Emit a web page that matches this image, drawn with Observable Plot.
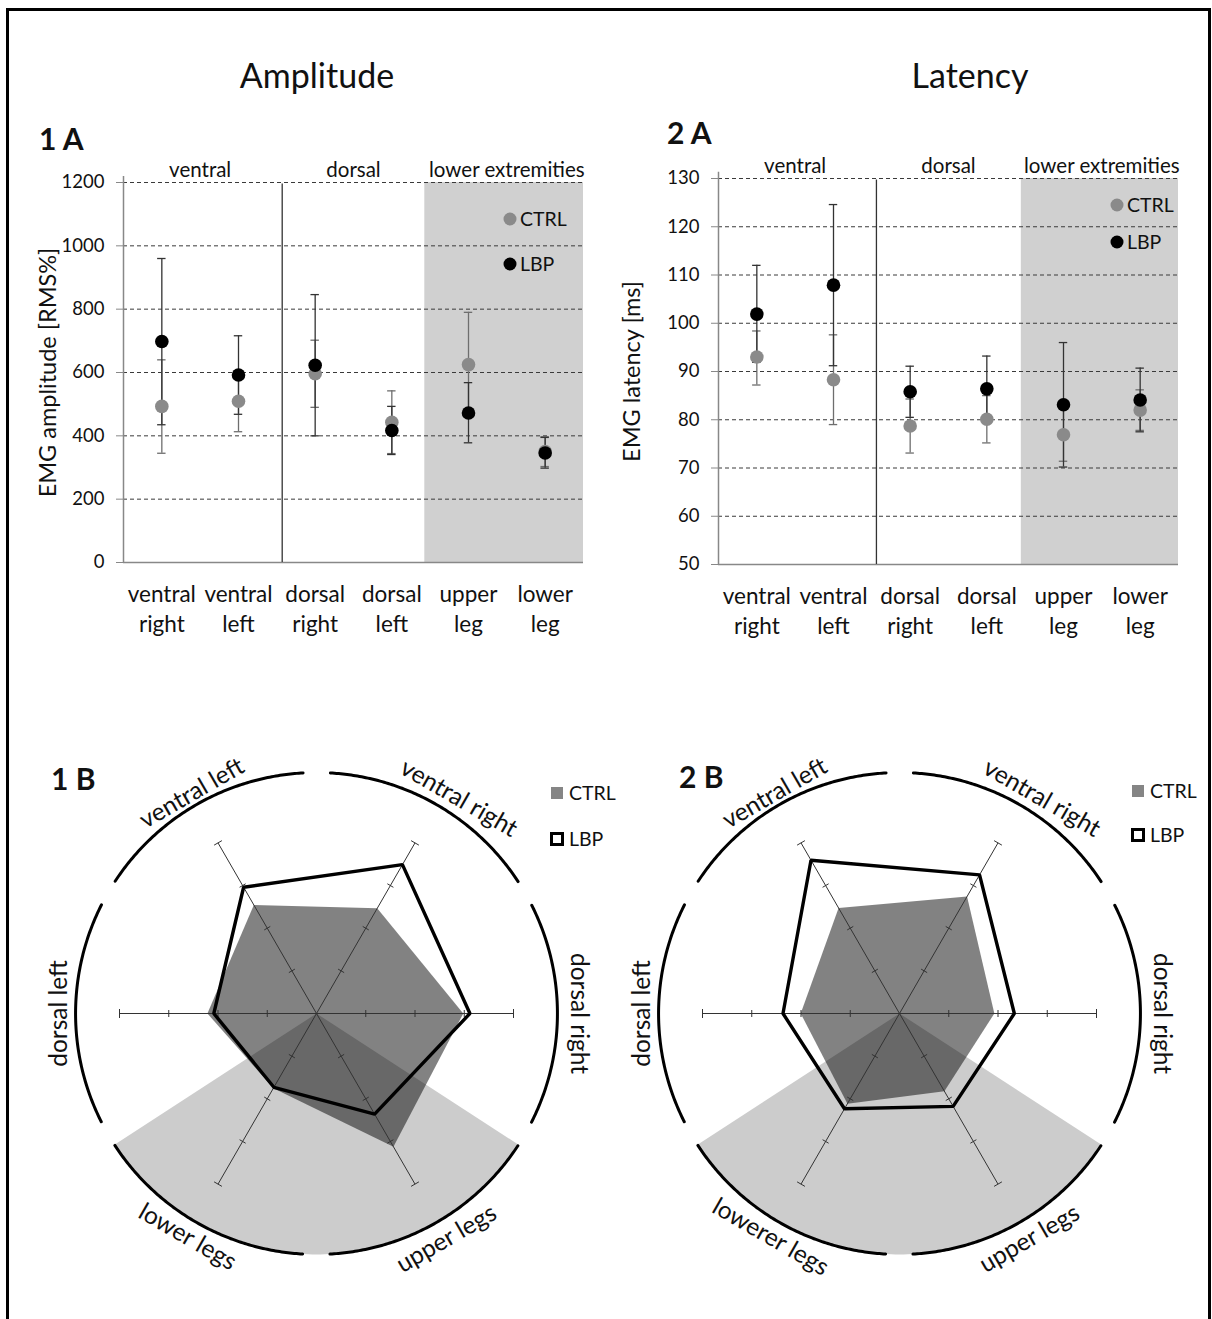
<!DOCTYPE html>
<html>
<head>
<meta charset="utf-8">
<script src="https://cdn.jsdelivr.net/npm/d3@7"></script>
<script src="https://cdn.jsdelivr.net/npm/@observablehq/plot@0.6"></script>
<style>
  body { margin: 0; background: #fff; font-family: Lato, "Open Sans", sans-serif; color: #111; }
  #page { position: relative; width: 1212px; height: 1319px; overflow: hidden; background: #fff; }
  #frame { position: absolute; left: 6px; top: 8px; width: 1199px; height: 1340px; border: 3px solid #000; }
  .abs { position: absolute; white-space: nowrap; line-height: 1; }
  .c { transform: translate(-50%, -50%); }
  .m { transform: translateY(-50%); }
  .title { font-size: 34px; }
  .panel { font-size: 30px; font-weight: 700; }
  .leg { font-size: 19.5px; }
  .plot { position: absolute; }
</style>
</head>
<body>
<div id="page">
  <div id="frame"></div>
  <div class="abs c title" style="left:317px;top:75px">Amplitude</div>
  <div class="abs c title" style="left:970px;top:75px">Latency</div>
  <div class="abs m panel" style="left:39px;top:138px">1 A</div>
  <div class="abs m panel" style="left:667px;top:132px">2 A</div>
  <div class="abs m panel" style="left:51px;top:778px">1 B</div>
  <div class="abs m panel" style="left:679px;top:776px">2 B</div>
  <div id="p1a" class="plot" style="left:0px;top:150px"></div>
  <div id="p2a" class="plot" style="left:600px;top:148px"></div>
  <div id="p1b" class="plot" style="left:26px;top:733px"></div>
  <div id="p2b" class="plot" style="left:609px;top:733px"></div>
  <div id="legends"></div>
</div>
<script>
// Muscle regions, in the order of the dot panels
const regions = ["ventral right", "ventral left", "dorsal right", "dorsal left", "upper leg", "lower leg"];
const regionTicks = ["ventral\nright", "ventral\nleft", "dorsal\nright", "dorsal\nleft", "upper\nleg", "lower\nleg"];
const groupNames = ["ventral", "dorsal", "lower extremities"];
const groupSpans = [[0, 2], [2, 4], [4, 6]];

// EMG amplitude [RMS%]: means and error-bar ends
const ampCtrl   = [493, 509, 596, 443, 625, 350];
const ampCtrlLo = [345, 413, 490, 344, 460, 303];
const ampCtrlHi = [640, 605, 702, 542, 790, 397];
const ampLbp    = [698, 592, 623, 417, 472, 346];
const ampLbpLo  = [435, 468, 400, 341, 378, 298];
const ampLbpHi  = [960, 716, 846, 493, 568, 395];
const ampTicks  = [0, 200, 400, 600, 800, 1000, 1200];

// EMG latency [ms]: means and error-bar ends
const latCtrl   = [93.0, 88.3, 78.7, 80.1, 76.9, 82.0];
const latCtrlLo = [87.2, 79.0, 73.1, 75.2, 71.4, 77.8];
const latCtrlHi = [98.4, 97.6, 84.3, 85.0, 82.4, 86.2];
const latLbp    = [101.9, 107.9, 85.8, 86.4, 83.1, 84.1];
const latLbpLo  = [91.9, 91.2, 80.5, 79.6, 70.2, 77.5];
const latLbpHi  = [112.0, 124.6, 91.1, 93.2, 96.0, 90.7];
const latTicks  = [50, 60, 70, 80, 90, 100, 110, 120, 130];

// Radar spokes, counter-clockwise from the right; index into regions
const radarOrder = [2, 0, 1, 3, 5, 4];
const radarLabelsAmp = ["dorsal right", "ventral right", "ventral left", "dorsal left", "lower legs", "upper legs"];
const radarLabelsLat = ["dorsal right", "ventral right", "ventral left", "dorsal left", "lowerer legs", "upper legs"];
const radarDomainAmp = [0, 800];
const radarTicksAmp = [200, 400, 600, 800];
const radarDomainLat = [45, 115];
const radarTicksLat = [62.5, 80, 97.5, 115];

const FONT = "Lato, 'Open Sans', sans-serif";
const CTRL_DOT = "#8a8a8a";

function dotPanel(o) {
  const n = regions.length;
  const [y0, y1] = o.yDomain;
  const rows = (mean, lo, hi) => regions.map((name, i) => ({x: i + 0.5, mean: mean[i], lo: lo[i], hi: hi[i]}));
  const c = rows(o.ctrl, o.ctrlLo, o.ctrlHi);
  const l = rows(o.lbp, o.lbpLo, o.lbpHi);
  const groups = groupNames.map((name, k) => ({name, x: (groupSpans[k][0] + groupSpans[k][1]) / 2}));
  const ticks = regionTicks.map((t, i) => ({t, x: i + 0.5}));
  const cap = 0.055;
  const errorBars = (rowsData, stroke) => [
    Plot.ruleX(rowsData, {x: "x", y1: "lo", y2: "hi", stroke, strokeWidth: 1.3}),
    Plot.ruleY(rowsData, {y: "lo", x1: d => d.x - cap, x2: d => d.x + cap, stroke, strokeWidth: 1.3}),
    Plot.ruleY(rowsData, {y: "hi", x1: d => d.x - cap, x2: d => d.x + cap, stroke, strokeWidth: 1.3})
  ];
  return Plot.plot({
    width: o.width, height: o.height,
    marginLeft: o.marginLeft, marginRight: o.marginRight, marginTop: o.marginTop, marginBottom: o.marginBottom,
    style: {fontFamily: FONT, color: "#111", background: "transparent", overflow: "visible"},
    x: {domain: [0, n], axis: null},
    y: {domain: o.yDomain},
    marks: [
      Plot.rect([0], {x1: o.shadeFrom, x2: n, y1: y0, y2: y1, fill: "#d0d0d0"}),
      Plot.gridY(o.yTicks.slice(1), {stroke: "#3a3a3a", strokeOpacity: 1, strokeWidth: 1, strokeDasharray: "4,3"}),
      Plot.axisY(o.yTicks, {tickSize: 7, tickPadding: 12, fontSize: 18.5, stroke: "#888", label: null, tickFormat: d => String(d)}),
      Plot.ruleX([0], {y1: y0, y2: y1 + (y1 - y0) * 0.016, stroke: "#888", strokeWidth: 1.5}),
      Plot.ruleY([y0], {stroke: "#888", strokeWidth: 1.5}),
      Plot.ruleX([o.divider], {y1: y0, y2: y1 - (y1 - y0) * 0.004, stroke: "#333", strokeWidth: 1.3}),
      ...errorBars(c, "#6e6e6e"),
      ...errorBars(l, "#333"),
      Plot.dot(c, {x: "x", y: "mean", r: 6.8, fill: CTRL_DOT, stroke: "none"}),
      Plot.dot(l, {x: "x", y: "mean", r: 6.8, fill: "#000", stroke: "none"}),
      Plot.text(groups, {x: "x", y: () => y1, text: "name", dy: -12, fontSize: 20.5, fill: "#111"}),
      Plot.text(ticks, {x: "x", text: "t", frameAnchor: "bottom", lineAnchor: "top", dy: 18, fontSize: 22.5, lineHeight: 1.33, fill: "#111"}),
      Plot.text([o.yLabel], {text: d => d, frameAnchor: "left", textAnchor: "middle", rotate: -90, dx: o.labelDx, fontSize: 23.5, fill: "#111"})
    ]
  });
}

function radarPanel(o) {
  const s = 197, W = 580, H = 560;
  const rad = d3.scaleLinear().domain(o.domain).range([0, 1]);
  const arcR = 1.223, halfSpan = 26.8;
  const toRad = deg => deg * Math.PI / 180;
  const polar = (r, deg) => ({x: r * Math.cos(toRad(deg)), y: r * Math.sin(toRad(deg))});
  const spokes = radarOrder.map((ri, k) => ({k, deg: k * 60, label: o.labels[k]}));

  // shaded sector behind the two leg spokes
  const wedge = [polar(0, 0), ...d3.range(213, 327.01, 1).map(a => polar(arcR, a))];
  // outer arcs, one per spoke
  const arcs = spokes.flatMap(sp => d3.range(sp.deg - halfSpan, sp.deg + halfSpan + 0.01, 0.5).map(a => ({...polar(arcR, a), k: sp.k})));
  // tick marks across each spoke
  const tickMarks = spokes.flatMap(sp => o.ticks.map((t, j) => {
    const p = polar(rad(t), sp.deg);
    const h = (j === o.ticks.length - 1 ? 4.5 : 3.5) / s;
    const nx = -Math.sin(toRad(sp.deg)) * h, ny = Math.cos(toRad(sp.deg)) * h;
    return {x1: p.x - nx, y1: p.y - ny, x2: p.x + nx, y2: p.y + ny};
  }));
  const ctrlPoly = spokes.map(sp => polar(rad(o.ctrl[radarOrder[sp.k]]), sp.deg));
  const lbpPoly = spokes.map(sp => polar(rad(o.lbp[radarOrder[sp.k]]), sp.deg));
  // label placement along the outside of each arc: [radius, angle shift]
  const labelPlace = [[1.33, 0], [1.31, -3.5], [1.285, -0.5], [1.305, 0], [1.31, 0], [1.32, 0]];
  const labels = spokes.map(sp => {
    let rot = 90 - sp.deg;
    if (sp.deg > 180) rot += 180;
    const [r, shift] = labelPlace[sp.k];
    return {...polar(r, sp.deg + shift), rot, label: sp.label};
  });
  const axisEnd = polar(1, 0).x;

  return Plot.plot({
    width: W, height: H, margin: 0,
    style: {fontFamily: FONT, color: "#111", background: "transparent", overflow: "visible"},
    x: {domain: [-W / 2 / s, W / 2 / s], range: [0, W], axis: null},
    y: {domain: [-H / 2 / s, H / 2 / s], range: [H, 0], axis: null},
    marks: [
      Plot.line(wedge, {x: "x", y: "y", curve: "linear-closed", fill: "#cccccc", stroke: "none"}),
      Plot.line(ctrlPoly, {x: "x", y: "y", curve: "linear-closed", fill: "#000", fillOpacity: 0.49, stroke: "none"}),
      Plot.link(spokes, {x1: 0, y1: 0, x2: d => polar(axisEnd, d.deg).x, y2: d => polar(axisEnd, d.deg).y, stroke: "#333", strokeWidth: 1}),
      Plot.link(tickMarks, {x1: "x1", y1: "y1", x2: "x2", y2: "y2", stroke: "#333", strokeWidth: 1}),
      Plot.line(lbpPoly, {x: "x", y: "y", curve: "linear-closed", stroke: "#000", strokeWidth: 3.4, strokeLinejoin: "miter"}),
      Plot.line(arcs, {x: "x", y: "y", z: "k", stroke: "#000", strokeWidth: 3}),
      Plot.text(labels, {x: "x", y: "y", text: "label", rotate: "rot", fontSize: 24.5, fill: "#111"})
    ]
  });
}

document.getElementById("p1a").append(dotPanel({
  ctrl: ampCtrl, ctrlLo: ampCtrlLo, ctrlHi: ampCtrlHi,
  lbp: ampLbp, lbpLo: ampLbpLo, lbpHi: ampLbpHi,
  yDomain: [0, 1200], yTicks: ampTicks, yLabel: "EMG amplitude [RMS%]",
  width: 600, height: 500, marginLeft: 123, marginRight: 17, marginTop: 32, marginBottom: 88,
  divider: 2.07, shadeFrom: 3.93, labelDx: -75
}));
document.getElementById("p2a").append(dotPanel({
  ctrl: latCtrl, ctrlLo: latCtrlLo, ctrlHi: latCtrlHi,
  lbp: latLbp, lbpLo: latLbpLo, lbpHi: latLbpHi,
  yDomain: [50, 130], yTicks: latTicks, yLabel: "EMG latency [ms]",
  width: 600, height: 500, marginLeft: 118, marginRight: 22, marginTop: 30, marginBottom: 84,
  divider: 2.06, shadeFrom: 3.95, labelDx: -86
}));
document.getElementById("p1b").append(radarPanel({
  ctrl: ampCtrl, lbp: ampLbp, domain: radarDomainAmp, ticks: radarTicksAmp, labels: radarLabelsAmp
}));
document.getElementById("p2b").append(radarPanel({
  ctrl: latCtrl, lbp: latLbp, domain: radarDomainLat, ticks: radarTicksLat, labels: radarLabelsLat
}));

// Legends
const legendSpecs = [
  {kind: "dot", x: 510, y: 219, label: "CTRL", color: CTRL_DOT},
  {kind: "dot", x: 510, y: 264, label: "LBP", color: "#000"},
  {kind: "dot", x: 1117, y: 205, label: "CTRL", color: CTRL_DOT},
  {kind: "dot", x: 1117, y: 242, label: "LBP", color: "#000"},
  {kind: "fill", x: 557, y: 793, label: "CTRL"},
  {kind: "open", x: 557, y: 839, label: "LBP"},
  {kind: "fill", x: 1138, y: 791, label: "CTRL"},
  {kind: "open", x: 1138, y: 835, label: "LBP"}
];
const legends = document.getElementById("legends");
for (const L of legendSpecs) {
  const sym = document.createElement("div");
  sym.className = "abs c";
  sym.style.left = L.x + "px";
  sym.style.top = L.y + "px";
  if (L.kind === "dot") {
    Object.assign(sym.style, {width: "13px", height: "13px", borderRadius: "50%", background: L.color});
  } else if (L.kind === "fill") {
    Object.assign(sym.style, {width: "12px", height: "12px", background: "#858585"});
  } else {
    Object.assign(sym.style, {width: "8px", height: "8px", border: "3px solid #000", background: "#fff"});
  }
  legends.append(sym);
  const txt = document.createElement("div");
  txt.className = "abs m leg";
  txt.style.left = (L.x + (L.kind === "dot" ? 10 : 12)) + "px";
  txt.style.top = L.y + "px";
  txt.textContent = L.label;
  legends.append(txt);
}
</script>
</body>
</html>
